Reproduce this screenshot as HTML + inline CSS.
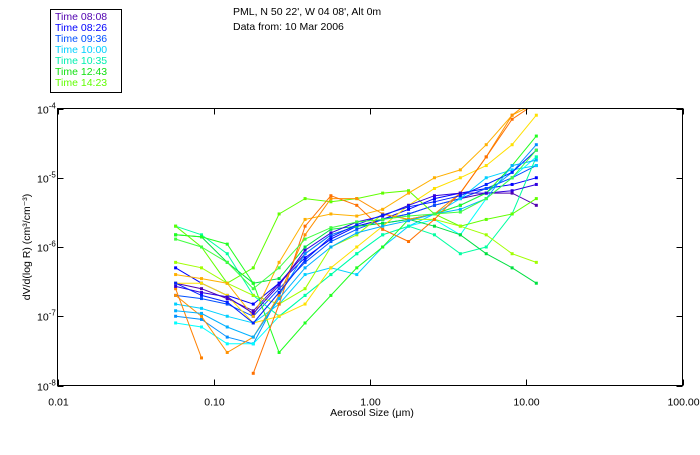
<!DOCTYPE html>
<html><head><meta charset="utf-8"><style>
body{margin:0;background:#fff;}
svg text{font-family:"Liberation Sans",sans-serif;}
</style></head><body>
<svg id="chart" width="700" height="450" viewBox="0 0 700 450" xmlns="http://www.w3.org/2000/svg">
<rect width="700" height="450" fill="#fff"/>
<g>
<rect x="50.5" y="9.5" width="71" height="83" fill="none" stroke="#000"/>
<text x="55" y="20" font-size="10.5" fill="#5000b0">Time 08:08</text>
<text x="55" y="31" font-size="10.5" fill="#0000ff">Time 08:26</text>
<text x="55" y="42" font-size="10.5" fill="#0050ff">Time 09:36</text>
<text x="55" y="53" font-size="10.5" fill="#00d0ff">Time 10:00</text>
<text x="55" y="64" font-size="10.5" fill="#00f0b0">Time 10:35</text>
<text x="55" y="75" font-size="10.5" fill="#10e010">Time 12:43</text>
<text x="55" y="86" font-size="10.5" fill="#60ff00">Time 14:23</text>
</g>
<text x="233" y="15" font-size="10.5">PML, N 50 22', W 04 08', Alt 0m</text>
<text x="233" y="30" font-size="10.5">Data from: 10 Mar 2006</text>
<g id="plot"></g>
<rect x="57.5" y="108.5" width="625" height="277" fill="none" stroke="#000"/>
<g id="axes"></g>
<text x="372" y="416" font-size="10.5" text-anchor="middle">Aerosol Size (μm)</text>
<text transform="translate(30,247) rotate(-90)" font-size="10.5" text-anchor="middle">dV/d(log R) (cm³/cm⁻³)</text>
</svg>
<script>
const sizes=[0.057,0.0835,0.122,0.179,0.262,0.384,0.562,0.823,1.205,1.765,2.585,3.786,5.545,8.12,11.6];
const xTicks=[0.01,0.1,1,10,100];
const xTickLabels=["0.01","0.10","1.00","10.00","100.00"];
const yTicks=[1e-4,1e-5,1e-6,1e-7,1e-8];
const yTickExps=["-4","-5","-6","-7","-8"];
const seriesColors=["#5000b0","#0000ff","#0050ff","#0090ff","#00d0ff","#00ffff","#00ffa0","#00e040","#20ff20","#60ff00","#a0ff00","#ffe000","#ffb000","#ff9000","#ff7000","#ff8000","#3000e0","#0020ff","#00b0ff","#40ff40"];
const s1=[3e-7,2.5e-7,1.8e-7,1.2e-7,3e-7,8e-7,1.5e-6,2e-6,2.5e-6,3e-6,4e-6,5e-6,6e-6,6e-6,4e-6];
const s2=[5e-7,3e-7,2e-7,1.5e-7,3e-7,7e-7,1.3e-6,2e-6,2.5e-6,3.5e-6,5e-6,6e-6,7e-6,8e-6,1e-5];
const s3=[2e-7,1.8e-7,1.5e-7,1e-7,2.5e-7,6e-7,1.2e-6,1.8e-6,2.5e-6,3e-6,4e-6,5e-6,7e-6,1e-5,1.5e-5];
const s4=[1e-7,9e-8,5e-8,4e-8,2e-7,8e-7,1.5e-6,2e-6,2.2e-6,2.5e-6,3e-6,4e-6,6e-6,1.2e-5,3e-5];
const s5=[1.5e-7,1.3e-7,1e-7,8e-8,1.5e-7,4e-7,5e-7,4e-7,1e-6,2e-6,3e-6,5e-6,1e-5,1.3e-5,1.5e-5];
const s6=[8e-8,7e-8,4e-8,4e-8,1e-7,2e-7,4e-7,8e-7,1.5e-6,2e-6,2.5e-6,1.5e-6,5e-6,1e-5,2e-5];
const s7=[2e-6,1.5e-6,8e-7,2e-7,1e-7,2e-7,4e-7,8e-7,1.5e-6,2e-6,1.5e-6,8e-7,1e-6,3e-6,2e-5];
const s8=[1.5e-6,1.4e-6,6e-7,3e-7,3.5e-7,1e-6,1.8e-6,2e-6,2.2e-6,2.5e-6,2e-6,1.5e-6,8e-7,5e-7,3e-7];
const s9=[1.5e-6,1.4e-6,1.1e-6,3e-7,3e-8,8e-8,2e-7,5e-7,1e-6,2.5e-6,3e-6,4e-6,6e-6,1.5e-5,4e-5];
const s10=[2e-6,1e-6,3e-7,5e-7,3e-6,5e-6,4.5e-6,5e-6,6e-6,6.5e-6,3e-6,2e-6,2.5e-6,3e-6,5e-6];
const s11=[6e-7,5e-7,3e-7,2e-7,1.5e-7,2.5e-7,1e-6,1.5e-6,3e-6,2.5e-6,2.5e-6,2e-6,1.5e-6,8e-7,6e-7];
const s12=[3e-7,3e-7,2e-7,8e-8,1e-7,1.5e-7,5e-7,1e-6,2e-6,4e-6,7e-6,1e-5,1.5e-5,3e-5,8e-5];
const s13=[4e-7,3.5e-7,3e-7,1e-7,6e-7,2.5e-6,3e-6,2.8e-6,3.5e-6,6e-6,1e-5,1.3e-5,3e-5,8e-5,1.2e-4];
const s14=[2e-7,1e-7,3e-8,5e-8,2e-7,1.5e-6,5e-6,5e-6,3e-6,2.5e-6,3e-6,6e-6,2e-5,8e-5,1.5e-4];
const s15=[null,null,null,1.5e-8,1.5e-7,2e-6,5.5e-6,4e-6,1.8e-6,1.2e-6,2.5e-6,6e-6,2e-5,7e-5,1.2e-4];
const s16=[2.5e-7,2.5e-8,null,null,null,null,null,null,null,null,null,null,null,null,null];
const s17=[2.7e-7,2.2e-7,1.9e-7,1.1e-7,2.8e-7,9e-7,1.6e-6,2.3e-6,2.8e-6,4e-6,5.5e-6,6e-6,6e-6,6.5e-6,8e-6];
const s18=[3e-7,2e-7,1.6e-7,8e-8,2.2e-7,6.5e-7,1.4e-6,2.1e-6,2.9e-6,3.8e-6,4.5e-6,5.5e-6,8e-6,1.2e-5,2.5e-5];
const s19=[1.2e-7,1.1e-7,7e-8,5e-8,1.8e-7,5e-7,1e-6,1.6e-6,2e-6,2.4e-6,3e-6,3.5e-6,5e-6,1.5e-5,1.8e-5];
const s20=[1.3e-6,1e-6,6e-7,2.5e-7,5e-7,1.3e-6,1.9e-6,2.3e-6,2.5e-6,2.8e-6,3e-6,3.2e-6,5e-6,1e-5,2.5e-5];
const allSeries=[s1,s2,s3,s4,s5,s6,s7,s8,s9,s10,s11,s12,s13,s14,s15,s16,s17,s18,s19,s20];
const NS="http://www.w3.org/2000/svg";
const X0=57.5,X1=682.5,Y0=108.5,Y1=385.5;
function xs(v){return X0+(Math.log10(v)+2)/4*(X1-X0);}
function ys(v){return Y0+(-4-Math.log10(v))/4*(Y1-Y0);}
function mk(t,a,p){const e=document.createElementNS(NS,t);for(const k in a)e.setAttribute(k,a[k]);p.appendChild(e);return e;}
const plot=document.getElementById('plot');
const clip=mk('clipPath',{id:'cp'},plot);mk('rect',{x:X0,y:Y0,width:X1-X0,height:Y1-Y0},clip);
const pg=mk('g',{'clip-path':'url(#cp)'},plot);
allSeries.forEach((s,i)=>{
  const g=mk('g',{},pg);
  
  
  let d='',pen=false;
  s.forEach((v,j)=>{if(v==null){pen=false;return;}d+=(pen?'L':'M')+xs(sizes[j]).toFixed(1)+' '+ys(v).toFixed(1);pen=true;});
  const p=mk('path',{d:d,fill:'none',stroke:seriesColors[i],'stroke-width':1},g);
  
  
  s.forEach((v,j)=>{if(v==null)return;
    const r=mk('rect',{x:xs(sizes[j])-1.5,y:ys(v)-1.5,width:3,height:3,fill:seriesColors[i]},g);
    
    
  });
});
const ax=document.getElementById('axes');
xTicks.forEach((t,i)=>{
  const x=Math.round(xs(t))+0.5;
  mk('line',{x1:x,x2:x,y1:Y1,y2:Y1-6,stroke:'#000'},ax);
  mk('line',{x1:x,x2:x,y1:Y0,y2:Y0+6,stroke:'#000'},ax);
  const tx=mk('text',{x:x,y:Y1+20,'font-size':10.5,'text-anchor':'middle'},ax);
  
  
  tx.textContent=xTickLabels[i];
});
yTicks.forEach((t,i)=>{
  const y=Math.round(ys(t))+0.5;
  mk('line',{x1:X0,x2:X0+6,y1:y,y2:y,stroke:'#000'},ax);
  mk('line',{x1:X1,x2:X1-6,y1:y,y2:y,stroke:'#000'},ax);
  const tx=mk('text',{x:37,y:y+4,'font-size':10.5},ax);
  
  
  tx.textContent='10';
  const sp=mk('tspan',{dy:-5,'font-size':8},tx);sp.textContent=yTickExps[i];
});
</script>
</body></html>
